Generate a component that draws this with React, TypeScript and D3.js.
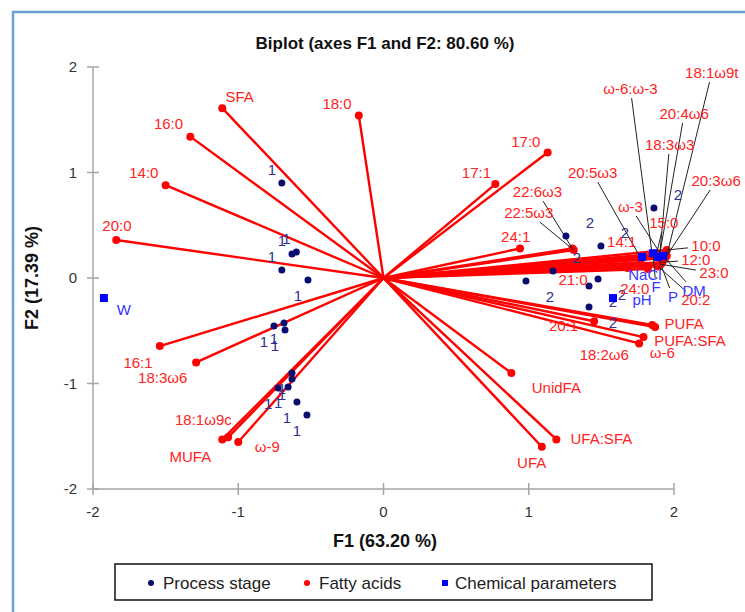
import * as d3 from 'd3';

// fatty acid vectors (F1, F2 loadings)
const faNames = ['SFA', '16:0', '14:0', '20:0', '18:0', '17:0', '17:1', '24:1', '22:6ω3', '22:5ω3', '20:5ω3', 'ω-3', 'ω-6:ω-3', '18:1ω9t', '20:4ω6', '18:3ω3', '20:3ω6', '15:0', '10:0', '12:0', '23:0', '20:2', '14:1', '21:0', '24:0', '20:1', 'PUFA', '18:2ω6', 'PUFA:SFA', 'ω-6', 'UnidFA', 'UFA:SFA', 'UFA', '16:1', '18:3ω6', '18:1ω9c', 'MUFA', 'ω-9'];
const faF1 = [-1.11, -1.33, -1.5, -1.84, -0.17, 1.13, 0.77, 0.94, 1.3, 1.31, 1.77, 1.92, 1.85, 1.95, 1.9, 1.9, 1.94, 1.88, 1.95, 1.92, 1.91, 1.89, 1.77, 1.68, 1.82, 1.45, 1.85, 1.87, 1.79, 1.76, 0.88, 1.19, 1.09, -1.54, -1.29, -1.07, -1.11, -1.0];
const faF2 = [1.61, 1.34, 0.88, 0.36, 1.54, 1.19, 0.89, 0.28, 0.28, 0.265, 0.19, 0.2, 0.22, 0.21, 0.21, 0.19, 0.19, 0.23, 0.265, 0.15, 0.13, 0.11, 0.15, 0.095, 0.085, -0.41, -0.445, -0.465, -0.56, -0.62, -0.9, -1.53, -1.6, -0.645, -0.8, -1.51, -1.53, -1.555];

// chemical parameters
const chemNames = ['W', 'pH', 'NaCl', 'F', 'P', 'DM'];
const chemF1 = [-1.925, 1.58, 1.78, 1.855, 1.89, 1.925];
const chemF2 = [-0.19, -0.19, 0.2, 0.235, 0.2, 0.21];

// process stage observations
const stageGroup = ['1', '1', '1', '1', '1', '1', '1', '1', '1', '1', '1', '1', '1', '1', '2', '2', '2', '2', '2', '2', '2', '2'];
const stageF1 = [-0.7, -0.63, -0.6, -0.7, -0.52, -0.754, -0.685, -0.678, -0.63, -0.63, -0.726, -0.657, -0.596, -0.527, 1.862, 1.256, 1.497, 1.167, 0.981, 1.477, 1.415, 1.415];
const stageF2 = [0.9, 0.227, 0.246, 0.076, -0.019, -0.455, -0.427, -0.493, -0.9, -0.957, -1.043, -1.033, -1.175, -1.299, 0.664, 0.398, 0.303, 0.066, -0.028, -0.009, -0.076, -0.275];

const ticks = [-2, -1, 0, 1, 2];

// label placement (in plot units), as laid out in the original
const faLabX = [-0.99, -1.48, -1.65, -1.835, -0.32, 0.98, 0.64, 0.91, 1.06, 1.0, 1.44, 1.7, 1.7, 2.26, 2.07, 1.97, 2.29, 1.93, 2.22, 2.15, 2.275, 2.15, 1.64, 1.305, 1.73, 1.24, 2.07, 1.52, 2.11, 1.92, 1.19, 1.5, 1.02, -1.69, -1.52, -1.24, -1.33, -0.8];
const faLabY = [1.716, 1.46, 0.995, 0.5, 1.65, 1.29, 0.995, 0.39, 0.815, 0.616, 0.995, 0.673, 1.79, 1.943, 1.555, 1.261, 0.919, 0.521, 0.303, 0.171, 0.047, -0.209, 0.341, -0.019, -0.104, -0.455, -0.436, -0.73, -0.597, -0.711, -1.043, -1.526, -1.754, -0.806, -0.948, -1.346, -1.697, -1.602];
const faLeaders = ['22:6ω3', '22:5ω3', '20:5ω3', 'ω-3', 'ω-6:ω-3', '18:1ω9t', '20:4ω6', '18:3ω3', '20:3ω6', '15:0', '10:0', '12:0', '23:0', '20:2'];
const chemLabX = [-1.787, 1.78, 1.8, 1.876, 1.993, 2.138];
const chemLabY = [-0.303, -0.209, 0.028, -0.085, -0.18, -0.123];
const chemLeaders = ['F', 'P', 'DM'];
const stageSide = ['a', 'a', 'a', 'a', 'b', 'b', 'b', 'b', 'b', 'b', 'b', 'b', 'b', 'b', 'a', 'a', 'a', 'a', 'b', 'b', 'b', 'b'];

const RED = '#ff0000';
const RED_TXT = '#ff2222';
const NAVY = '#0b0d6e';
const NAVY_TXT = '#2e318f';
const BLUE = '#0000ff';
const BLUE_TXT = '#3535ff';
const FONT = "'Liberation Sans', Arial, sans-serif";

// start a leader at the edge of the label box, pointing at the target
function leaderStart(lx: number, ly: number, tx: number, ty: number, text: string) {
  const hw = text.length * 4 + 2;
  const hh = 9;
  const dx = tx - lx;
  const dy = ty - ly;
  const t = Math.min(dx === 0 ? 1e9 : hw / Math.abs(dx), dy === 0 ? 1e9 : hh / Math.abs(dy));
  return [lx + dx * t, ly + dy * t];
}

export default function App() {
  const width = 745;
  const height = 612;
  const x = d3.scaleLinear().domain([-2, 2]).range([93, 674]);
  const y = d3.scaleLinear().domain([-2, 2]).range([489, 67]);
  const ox = x(0);
  const oy = y(0);

  return (
    <svg
      width={width}
      height={height}
      style={{ position: 'absolute', left: 0, top: 0, background: '#fff' }}
      fontFamily={FONT}
    >
      {/* frame */}
      <rect x={13} y={12} width={760} height={640} fill="none" stroke="#6a9fd8" strokeWidth={2.5} />

      <text x={385} y={49} textAnchor="middle" fontSize={17} fontWeight="bold" fill="#111">
        Biplot (axes F1 and F2: 80.60 %)
      </text>

      {/* axes */}
      <g stroke="#a6a6a6" strokeWidth={1.5}>
        <line x1={x(-2)} x2={x(-2)} y1={y(2)} y2={y(-2)} />
        <line x1={x(-2)} x2={x(2)} y1={y(-2)} y2={y(-2)} />
        {ticks.map((t) => (
          <line key={`yt${t}`} x1={x(-2) - 6} x2={x(-2) + 6} y1={y(t)} y2={y(t)} />
        ))}
        {ticks.map((t) => (
          <line key={`xt${t}`} x1={x(t)} x2={x(t)} y1={y(-2) - 6} y2={y(-2) + 6} />
        ))}
      </g>
      {ticks.map((t) => (
        <text key={`yl${t}`} x={77} y={y(t)} dy="0.35em" textAnchor="end" fontSize={15} fill="#333">
          {t}
        </text>
      ))}
      {ticks.map((t) => (
        <text key={`xl${t}`} x={x(t)} y={512} dy="0.35em" textAnchor="middle" fontSize={15} fill="#333">
          {t}
        </text>
      ))}
      <text x={385} y={541} dy="0.35em" textAnchor="middle" fontSize={18} fontWeight="bold" fill="#111">
        F1 (63.20 %)
      </text>
      <text
        transform={`translate(32, ${y(0)}) rotate(-90)`}
        dy="0.35em"
        textAnchor="middle"
        fontSize={18}
        fontWeight="bold"
        fill="#111"
      >
        F2 (17.39 %)
      </text>

      {/* fatty acid vectors */}
      {faNames.map((n, i) => (
        <line key={`v${i}`} x1={ox} y1={oy} x2={x(faF1[i])} y2={y(faF2[i])} stroke={RED} strokeWidth={2.4} />
      ))}
      {faNames.map((n, i) => (
        <circle key={`vd${i}`} cx={x(faF1[i])} cy={y(faF2[i])} r={4} fill={RED} />
      ))}

      {/* leader lines */}
      {faNames.map((n, i) => {
        if (!faLeaders.includes(n)) return null;
        const lx = x(faLabX[i]);
        const ly = y(faLabY[i]);
        const tx = x(faF1[i]);
        const ty = y(faF2[i]);
        const [sx, sy] = leaderStart(lx, ly, tx, ty, n);
        return <line key={`fl${i}`} x1={sx} y1={sy} x2={tx} y2={ty} stroke="#222" strokeWidth={1} />;
      })}
      {chemNames.map((n, i) => {
        if (!chemLeaders.includes(n)) return null;
        const lx = x(chemLabX[i]);
        const ly = y(chemLabY[i]);
        const tx = x(chemF1[i]);
        const ty = y(chemF2[i]);
        const [sx, sy] = leaderStart(lx, ly, tx, ty, n);
        return <line key={`cl${i}`} x1={sx} y1={sy} x2={tx} y2={ty} stroke="#222" strokeWidth={1} />;
      })}

      {/* process stage points */}
      {stageF1.map((v, i) => (
        <circle key={`s${i}`} cx={x(v)} cy={y(stageF2[i])} r={3.5} fill={NAVY} />
      ))}
      {stageF1.map((v, i) => {
        const dx = stageGroup[i] === '1' ? -10 : 24;
        const dy = stageSide[i] === 'a' ? -13 : 16;
        return (
          <text
            key={`sl${i}`}
            x={x(v) + dx}
            y={y(stageF2[i]) + dy}
            dy="0.35em"
            textAnchor="middle"
            fontSize={15}
            fill={NAVY_TXT}
          >
            {stageGroup[i]}
          </text>
        );
      })}

      {/* chemical parameters */}
      {chemNames.map((n, i) => (
        <rect key={`c${i}`} x={x(chemF1[i]) - 4} y={y(chemF2[i]) - 4} width={8} height={8} fill={BLUE} />
      ))}
      {chemNames.map((n, i) => (
        <text
          key={`ct${i}`}
          x={x(chemLabX[i])}
          y={y(chemLabY[i])}
          dy="0.35em"
          textAnchor="middle"
          fontSize={15}
          fill={BLUE_TXT}
        >
          {n}
        </text>
      ))}

      {/* fatty acid labels */}
      {faNames.map((n, i) => (
        <text
          key={`ft${i}`}
          x={x(faLabX[i])}
          y={y(faLabY[i])}
          dy="0.35em"
          textAnchor="middle"
          fontSize={15}
          fill={RED_TXT}
        >
          {n}
        </text>
      ))}

      {/* legend */}
      <rect x={115} y={564} width={537} height={36} fill="#fff" stroke="#111" strokeWidth={1.5} />
      <circle cx={151} cy={583} r={3} fill={NAVY} />
      <text x={163} y={583} dy="0.35em" fontSize={17} fill="#222">Process stage</text>
      <circle cx={307} cy={583} r={3} fill={RED} />
      <text x={319} y={583} dy="0.35em" fontSize={17} fill="#222">Fatty acids</text>
      <rect x={442} y={580} width={6} height={6} fill={BLUE} />
      <text x={455} y={583} dy="0.35em" fontSize={17} fill="#222">Chemical parameters</text>
    </svg>
  );
}
